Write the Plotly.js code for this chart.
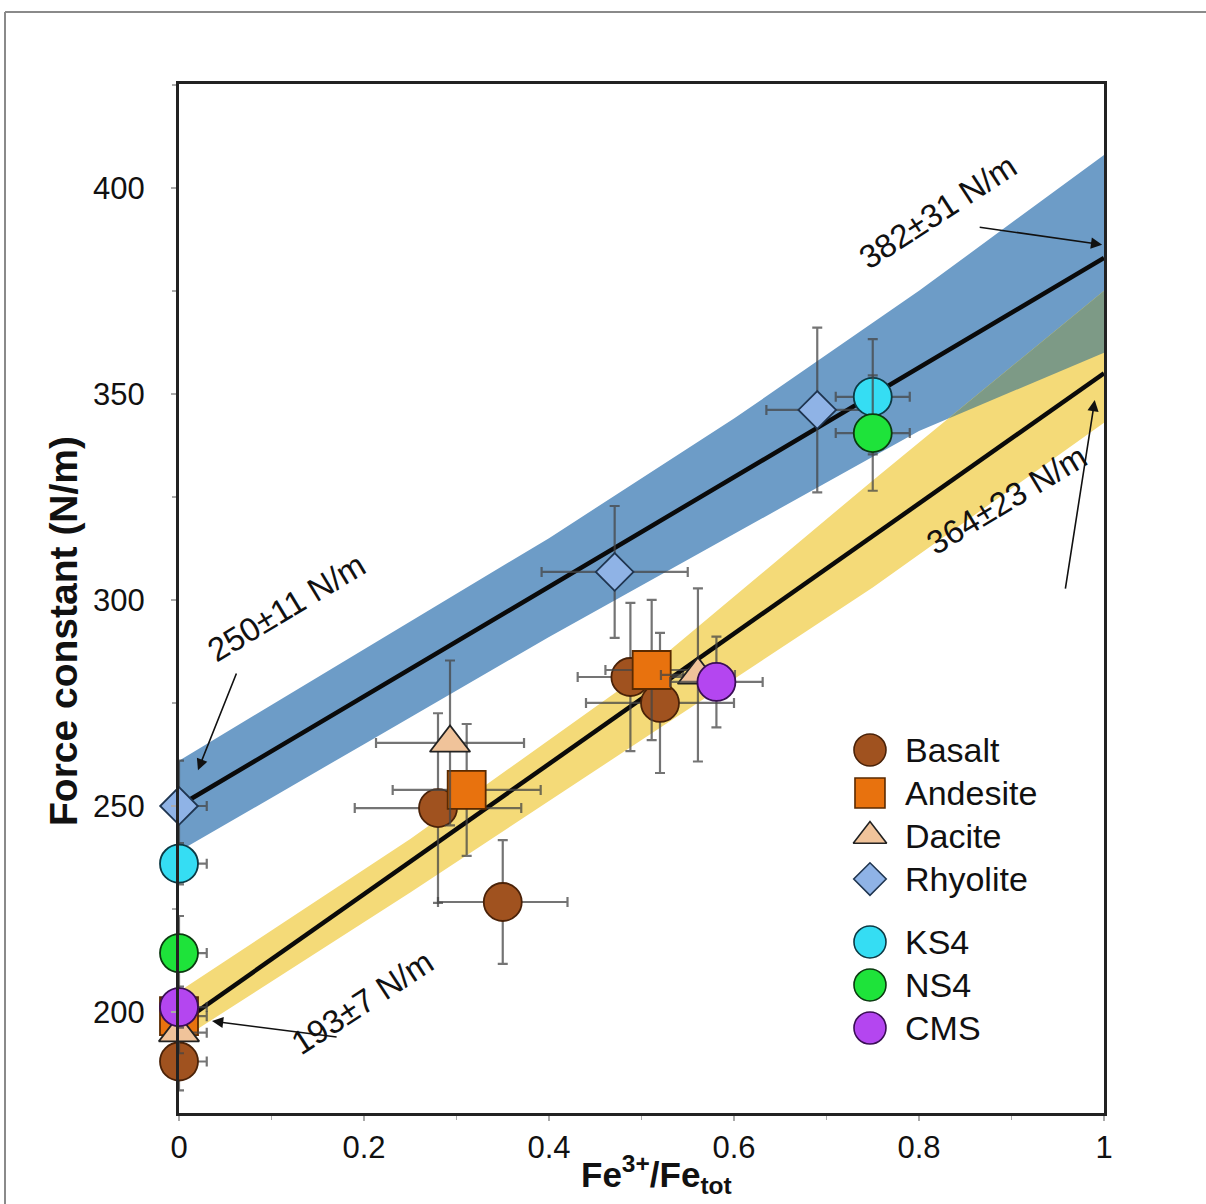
<!DOCTYPE html>
<html>
<head>
<meta charset="utf-8">
<script src="https://cdn.plot.ly/plotly-3.0.1.min.js"></script>
<style>
  html, body { margin: 0; padding: 0; background: #fff; }
  #chart { width: 1206px; height: 1204px; }
</style>
</head>
<body>
<div id="chart"></div>
<script>
// ---------------- data ----------------
const basaltX = [0.00, 0.280, 0.350, 0.488, 0.520];
const basaltY = [188, 249.5, 226.7, 281.3, 275.0];
const basaltXerr = [0.03, 0.09, 0.07, 0.057, 0.08];
const basaltYerr = [7, 23, 15, 18, 17];

const andesiteX = [0.00, 0.311, 0.511];
const andesiteY = [199, 253.9, 283.0];
const andesiteXerr = [0.03, 0.08, 0.05];
const andesiteYerr = [5, 16, 17];

const daciteX = [0.00, 0.293, 0.561];
const daciteY = [195, 265.3, 281.8];
const daciteXerr = [0.03, 0.08, 0.04];
const daciteYerr = [5, 20, 21];

const rhyoliteX = [0.00, 0.471, 0.690];
const rhyoliteY = [250, 306.8, 346.1];
const rhyoliteXerr = [0.03, 0.079, 0.055];
const rhyoliteYerr = [11, 16, 20];

const ks4X = [0.00, 0.750];
const ks4Y = [236, 349.3];
const ks4Xerr = [0.03, 0.04];
const ks4Yerr = [5, 14];

const ns4X = [0.00, 0.750];
const ns4Y = [214.3, 340.5];
const ns4Xerr = [0.03, 0.04];
const ns4Yerr = [9, 14];

const cmsX = [0.00, 0.581];
const cmsY = [201.2, 280.1];
const cmsXerr = [0.03, 0.05];
const cmsYerr = [5, 11];

// regression lines (end points)
const fitX = [0, 1];
const fitUpperY = [250, 383];
const fitLowerY = [197, 355];

// confidence bands
const blueBandX = [0, 0.2, 0.4, 0.6, 0.8, 1.0];
const blueBandHi = [261, 288, 315, 344, 375, 408];
const blueBandLo = [239, 265, 291, 316, 341, 360];

const yellowBandX = [0, 0.25, 0.5, 0.75, 1.0];
const yellowBandHi = [205, 242, 282, 329, 375];
const yellowBandLo = [193, 229, 266, 303, 343];

const xTicks = [0, 0.2, 0.4, 0.6, 0.8, 1];
const xTickText = ['0', '0.2', '0.4', '0.6', '0.8', '1'];
const yTicks = [200, 250, 300, 350, 400];
const yTickText = ['200', '250', '300', '350', '400'];

const labelTexts = ['382±31 N/m', '250±11 N/m', '364±23 N/m', '193±7 N/m'];

// ---------------- styling ----------------
const FONT = '"Liberation Sans", Arial, Helvetica, sans-serif';
const ERR = 'rgba(70,70,70,0.75)';

const series = [
  {name: 'Basalt',    x: basaltX,   y: basaltY,   ex: basaltXerr,   ey: basaltYerr,   symbol: 'circle',      size: 38, color: '#A0521F', line: '#4a2208', lsize: 32},
  {name: 'Andesite',  x: andesiteX, y: andesiteY, ex: andesiteXerr, ey: andesiteYerr, symbol: 'square',      size: 38, color: '#E8720E', line: '#5a2a00', lsize: 30},
  {name: 'Dacite',    x: daciteX,   y: daciteY,   ex: daciteXerr,   ey: daciteYerr,   symbol: 'triangle-up', size: 35, color: '#F0C39A', line: '#222',    lsize: 29},
  {name: 'Rhyolite',  x: rhyoliteX, y: rhyoliteY, ex: rhyoliteXerr, ey: rhyoliteYerr, symbol: 'diamond',     size: 29, color: '#8FB3E6', line: '#1f3550', lsize: 25},
  {name: 'KS4',       x: ks4X,      y: ks4Y,      ex: ks4Xerr,      ey: ks4Yerr,      symbol: 'circle',      size: 38, color: '#35DDF3', line: '#0c3a45', lsize: 32},
  {name: 'NS4',       x: ns4X,      y: ns4Y,      ex: ns4Xerr,      ey: ns4Yerr,      symbol: 'circle',      size: 38, color: '#1EE33A', line: '#0b3a10', lsize: 32},
  {name: 'CMS',       x: cmsX,      y: cmsY,      ex: cmsXerr,      ey: cmsYerr,      symbol: 'circle',      size: 38, color: '#B446F0', line: '#3a0e55', lsize: 32}
];

// --- band overlap outline (geometry of the two band polygons) ---
function interp(xs, ys, x) {
  for (let i = 0; i < xs.length - 1; i++) {
    if (x >= xs[i] && x <= xs[i + 1]) {
      const t = (x - xs[i]) / (xs[i + 1] - xs[i]);
      return ys[i] + t * (ys[i + 1] - ys[i]);
    }
  }
  return ys[ys.length - 1];
}
const ovX = [], ovHi = [], ovLo = [];
for (let k = 0; k <= 1000; k++) {
  const x = k / 1000;
  const hi = Math.min(interp(blueBandX, blueBandHi, x), interp(yellowBandX, yellowBandHi, x));
  const lo = Math.max(interp(blueBandX, blueBandLo, x), interp(yellowBandX, yellowBandLo, x));
  if (hi > lo) { ovX.push(x); ovHi.push(hi); ovLo.push(lo); }
}

const traces = [];
traces.push({
  x: blueBandX.concat(blueBandX.slice().reverse()),
  y: blueBandHi.concat(blueBandLo.slice().reverse()),
  type: 'scatter', mode: 'lines', fill: 'toself',
  fillcolor: '#6D9CC7', line: {width: 0}, hoverinfo: 'skip', showlegend: false
});
traces.push({
  x: yellowBandX.concat(yellowBandX.slice().reverse()),
  y: yellowBandHi.concat(yellowBandLo.slice().reverse()),
  type: 'scatter', mode: 'lines', fill: 'toself',
  fillcolor: '#F4DA78', line: {width: 0}, hoverinfo: 'skip', showlegend: false
});
if (ovX.length > 1) {
  traces.push({
    x: ovX.concat(ovX.slice().reverse()),
    y: ovHi.concat(ovLo.slice().reverse()),
    type: 'scatter', mode: 'lines', fill: 'toself',
    fillcolor: '#7D9A86', line: {width: 0}, hoverinfo: 'skip', showlegend: false
  });
}
traces.push({x: fitX, y: fitUpperY, type: 'scatter', mode: 'lines',
  line: {color: '#0a0a0a', width: 4.5}, showlegend: false, hoverinfo: 'skip'});
traces.push({x: fitX, y: fitLowerY, type: 'scatter', mode: 'lines',
  line: {color: '#0a0a0a', width: 4.5}, showlegend: false, hoverinfo: 'skip'});

series.forEach(s => {
  traces.push({
    x: s.x, y: s.y, type: 'scatter', mode: 'markers', name: s.name,
    showlegend: false, cliponaxis: false,
    marker: {symbol: s.symbol, size: s.size, color: s.color, line: {color: s.line, width: 1.8}},
    error_x: {type: 'data', array: s.ex, arrayminus: s.ex.map((e, i) => s.x[i] === 0 ? 0 : e),
              color: ERR, thickness: 2.2, width: 5},
    error_y: {type: 'data', array: s.ey, color: ERR, thickness: 2.2, width: 5}
  });
});

// custom legend (positions in a hidden overlay axis, 0..1)
const legX = 0.747;
const legTop = 0.3528;
const legStep = 0.0418;
const legGap = 0.0194;
const legendAnn = [];
series.forEach((s, i) => {
  const yy = legTop - i * legStep - (i >= 4 ? legGap : 0);
  traces.push({
    x: [legX], y: [yy], xaxis: 'x2', yaxis: 'y2', type: 'scatter', mode: 'markers',
    showlegend: false, hoverinfo: 'skip', cliponaxis: false,
    marker: {symbol: s.symbol, size: s.lsize, color: s.color, line: {color: s.line, width: 1.6}}
  });
  legendAnn.push({
    xref: 'x2', yref: 'y2', x: legX + 0.036, y: yy, text: s.name, showarrow: false,
    xanchor: 'left', yanchor: 'middle', font: {family: FONT, size: 34, color: '#111'}
  });
});

const labelAnn = [
  {x: 0.8205, y: 394.2, text: labelTexts[0], textangle: -33},
  {x: 0.116,  y: 298.1, text: labelTexts[1], textangle: -31},
  {x: 0.895,  y: 324.3, text: labelTexts[2], textangle: -31},
  {x: 0.198,  y: 202.2, text: labelTexts[3], textangle: -33}
].map(a => Object.assign({xref: 'x', yref: 'y', showarrow: false, xanchor: 'center', yanchor: 'middle',
  font: {family: FONT, size: 33, color: '#111'}}, a));

const arrowAnn = [
  {x: 0.998, y: 386.2, ax: 0.864, ay: 390.5},
  {x: 0.0205, y: 258.7, ax: 0.0627, ay: 282.5},
  {x: 0.990, y: 348.5, ax: 0.958, ay: 302.4},
  {x: 0.0357, y: 197.8, ax: 0.172, ay: 193.9}
].map(a => Object.assign({xref: 'x', yref: 'y', axref: 'x', ayref: 'y', text: '',
  showarrow: true, arrowhead: 2, arrowsize: 1.4, arrowwidth: 1.6, arrowcolor: '#111'}, a));

const px2x = px => (px - 179) / 925;
const px2y = py => (1113 - py) / 1029;

const titleAnn = [
  {xref: 'paper', yref: 'paper', x: px2x(63), y: px2y(631), textangle: -90, showarrow: false,
   xanchor: 'center', yanchor: 'middle',
   text: '<b>Force constant (N/m)</b>', font: {family: FONT, size: 39, color: '#111'}},
  {xref: 'paper', yref: 'paper', x: px2x(656), y: px2y(1174), showarrow: false,
   xanchor: 'center', yanchor: 'middle',
   text: '<b>Fe<sup>3+</sup>/Fe<sub>tot</sub></b>', font: {family: FONT, size: 35, color: '#111'}}
];

const shapes = [
  {type: 'line', xref: 'paper', yref: 'paper', x0: px2x(5), x1: px2x(1210), y0: px2y(12), y1: px2y(12),
   line: {color: '#8a8a8a', width: 2}},
  {type: 'line', xref: 'paper', yref: 'paper', x0: px2x(5), x1: px2x(5), y0: px2y(12), y1: px2y(1210),
   line: {color: '#8a8a8a', width: 2}}
];

const layout = {
  width: 1206, height: 1204,
  margin: {l: 179, r: 102, t: 84, b: 91},
  paper_bgcolor: '#fff', plot_bgcolor: '#fff',
  showlegend: false,
  font: {family: FONT, color: '#111'},
  xaxis: {
    range: [0, 1], tickvals: xTicks, ticktext: xTickText,
    ticks: 'outside', ticklen: 5, tickwidth: 1.5, tickcolor: '#aaa',
    minor: {dtick: 0.1, tick0: 0, ticks: 'outside', ticklen: 4, tickcolor: '#aaa', tickwidth: 1.5},
    showline: true, linecolor: '#222', linewidth: 3, mirror: true,
    showgrid: false, zeroline: false,
    tickfont: {family: FONT, size: 31, color: '#111'}
  },
  yaxis: {
    range: [175.5, 425.2], tickvals: yTicks, ticktext: yTickText,
    ticks: 'outside', ticklen: 5, tickwidth: 1.5, tickcolor: '#aaa',
    minor: {dtick: 25, tick0: 200, ticks: 'outside', ticklen: 4, tickcolor: '#aaa', tickwidth: 1.5},
    showline: true, linecolor: '#222', linewidth: 3, mirror: true,
    showgrid: false, zeroline: false,
    ticklabelstandoff: 20,
    tickfont: {family: FONT, size: 31, color: '#111'}
  },
  xaxis2: {overlaying: 'x', range: [0, 1], visible: false, fixedrange: true},
  yaxis2: {overlaying: 'y', range: [0, 1], visible: false, fixedrange: true},
  annotations: labelAnn.concat(arrowAnn, legendAnn, titleAnn),
  shapes: shapes
};

Plotly.newPlot('chart', traces, layout, {displayModeBar: false, staticPlot: true});
</script>
</body>
</html>
